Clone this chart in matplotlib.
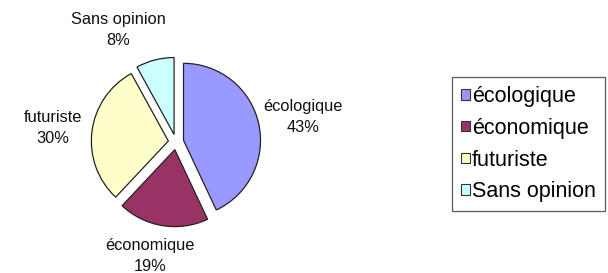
import matplotlib.pyplot as plt
import matplotlib
matplotlib.rcParams['font.family'] = ['Liberation Sans', 'DejaVu Sans']

labels = ['écologique', 'économique', 'futuriste', 'Sans opinion']
values = [43, 19, 30, 8]
colors = ['#9999ff', '#993366', '#ffffcc', '#ccffff']

# label centres in pie units (radius = 1)
label_xy = [(1.65, 0.32), (-0.34, -1.48), (-1.60, 0.18), (-0.75, 1.46)]

fig = plt.figure(figsize=(6.08, 2.73), dpi=100)
fig.patch.set_facecolor('white')

R = 77.0  # pixels per unit
cx, cy = 176.0, 273 - 142.0
ax = fig.add_axes([0, 0, 2 * cx / 608, 1])
wedges, _ = ax.pie(values, colors=colors, startangle=90, counterclock=False,
                   explode=[0.1] * 4,
                   wedgeprops=dict(edgecolor='#222222', linewidth=0.9))
ax.set_xlim(-cx / R, cx / R)
ax.set_ylim(-cy / R, (273 - cy) / R)

for lab, v, (x, y) in zip(labels, values, label_xy):
    ax.text(x, y, '%s\n%d%%' % (lab, v), ha='center', va='center',
            fontsize=11.8, linespacing=1.5, color='#111111')

leg = fig.legend(wedges, labels, loc='upper right',
                 bbox_to_anchor=(605 / 608, 1 - 77 / 273),
                 fontsize=15.5, frameon=True, fancybox=False,
                 edgecolor='#333333', borderaxespad=0,
                 handlelength=0.38, handleheight=0.38, handletextpad=0.12,
                 labelspacing=0.5, borderpad=0.42)
leg.get_frame().set_linewidth(0.9)
for h in leg.legend_handles:
    h.set_edgecolor('#333333')
    h.set_linewidth(0.8)

fig.savefig('out.png', dpi=100, facecolor='white')
